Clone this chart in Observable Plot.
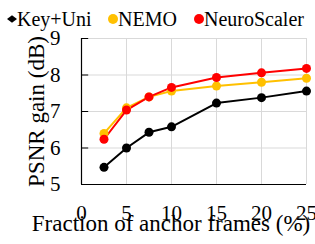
<!DOCTYPE html>
<html>
<head>
<meta charset="utf-8">
<script src="https://cdn.jsdelivr.net/npm/d3@7"></script>
<script src="https://cdn.jsdelivr.net/npm/@observablehq/plot@0.6"></script>
<style>
  body { margin: 0; background: #fff; }
  #wrap { position: relative; width: 315px; height: 244px; }
  #legend { position: absolute; left: 0; top: 0; width: 315px; height: 34px; color: #000; }
  #legend .txt { position: absolute; top: 8px; font-size: 20px; white-space: nowrap; font-family: 'Liberation Serif', serif; }
  #legend svg.mk { position: absolute; }
  #chart svg text { font-family: 'Liberation Serif', serif; }
</style>
</head>
<body>
<div id="wrap"><div id="chart"></div><div id="legend"></div></div>
<script>
const fractions = [2.5, 5, 7.5, 10, 15, 20, 25];
const seriesNames = ["Key+Uni", "NEMO", "NeuroScaler"];
const keyUni = [5.47, 6.0, 6.43, 6.58, 7.23, 7.38, 7.56];
const nemo = [6.40, 7.10, 7.40, 7.56, 7.70, 7.80, 7.91];
const neuroScaler = [6.24, 7.04, 7.40, 7.66, 7.93, 8.06, 8.18];
const colors = ["#000000", "#FFC000", "#FF0000"];
const xTicks = [0, 5, 10, 15, 20, 25];
const yTicks = [5, 6, 7, 8, 9];

const valuesBySeries = [keyUni, nemo, neuroScaler];
const data = [];
valuesBySeries.forEach((vals, si) => {
  vals.forEach((v, i) => data.push({series: seriesNames[si], x: fractions[i], y: v}));
});

const font = "'Liberation Serif', serif";
const chart = Plot.plot({
  width: 315,
  height: 244,
  marginLeft: 81,
  marginRight: 9,
  marginTop: 38,
  marginBottom: 60,
  style: {fontFamily: font, fontSize: "20px", color: "#000", background: "#fff", overflow: "visible"},
  x: {domain: [0, 25], ticks: xTicks},
  y: {domain: [5, 9], ticks: yTicks},
  color: {domain: seriesNames, range: colors},
  marks: [
    Plot.gridX(xTicks.filter(d => d > 0), {stroke: "#d9d9d9", strokeOpacity: 1, strokeWidth: 1}),
    Plot.gridY(yTicks.filter(d => d > 5), {stroke: "#d9d9d9", strokeOpacity: 1, strokeWidth: 1}),
    Plot.ruleX([0], {stroke: "#000", strokeWidth: 1.2}),
    Plot.ruleY([5], {stroke: "#000", strokeWidth: 1.2}),
    Plot.ruleY(yTicks, {x1: 0, x2: 0.8, stroke: "#000", strokeWidth: 1}),
    Plot.axisY({ticks: yTicks, tickFormat: d => String(d), tickSize: 0, tickPadding: 21, fontSize: 21, label: null}),
    Plot.axisX({ticks: xTicks, tickFormat: d => String(d), tickSize: 0, tickPadding: 21, fontSize: 21, label: null}),
    Plot.text(["PSNR gain (dB)"], {frameAnchor: "left", rotate: -90, dx: -45, fontSize: 23, textAnchor: "middle"}),
    Plot.text(["Fraction of anchor frames (%)"], {frameAnchor: "bottom", dy: 46, dx: -23, fontSize: 23}),
    Plot.line(data, {x: "x", y: "y", stroke: "series", strokeWidth: 2}),
    Plot.dot(data, {x: "x", y: "y", fill: "series", r: 4.5})
  ]
});
document.getElementById("chart").appendChild(chart);

// Legend
const legend = document.getElementById("legend");
const markerCx = [12, 113, 198.5];
const textX = [17, 118, 204];
seriesNames.forEach((name, i) => {
  const ns = "http://www.w3.org/2000/svg";
  const mk = document.createElementNS(ns, "svg");
  mk.setAttribute("class", "mk");
  mk.setAttribute("width", "12");
  mk.setAttribute("height", "12");
  mk.style.left = (markerCx[i] - 6) + "px";
  mk.style.top = "13px";
  if (i === 0) {
    const p = document.createElementNS(ns, "path");
    p.setAttribute("d", "M6 2.2 L11 6 L6 9.8 L1 6 Z");
    p.setAttribute("fill", colors[i]);
    mk.appendChild(p);
  } else {
    const c = document.createElementNS(ns, "circle");
    c.setAttribute("cx", "6"); c.setAttribute("cy", "6"); c.setAttribute("r", "5");
    c.setAttribute("fill", colors[i]);
    mk.appendChild(c);
  }
  legend.appendChild(mk);
  const t = document.createElement("div");
  t.className = "txt";
  t.style.left = textX[i] + "px";
  t.style.fontFamily = "'Liberation Serif', serif";
  t.textContent = name;
  legend.appendChild(t);
});
</script>
</body>
</html>
